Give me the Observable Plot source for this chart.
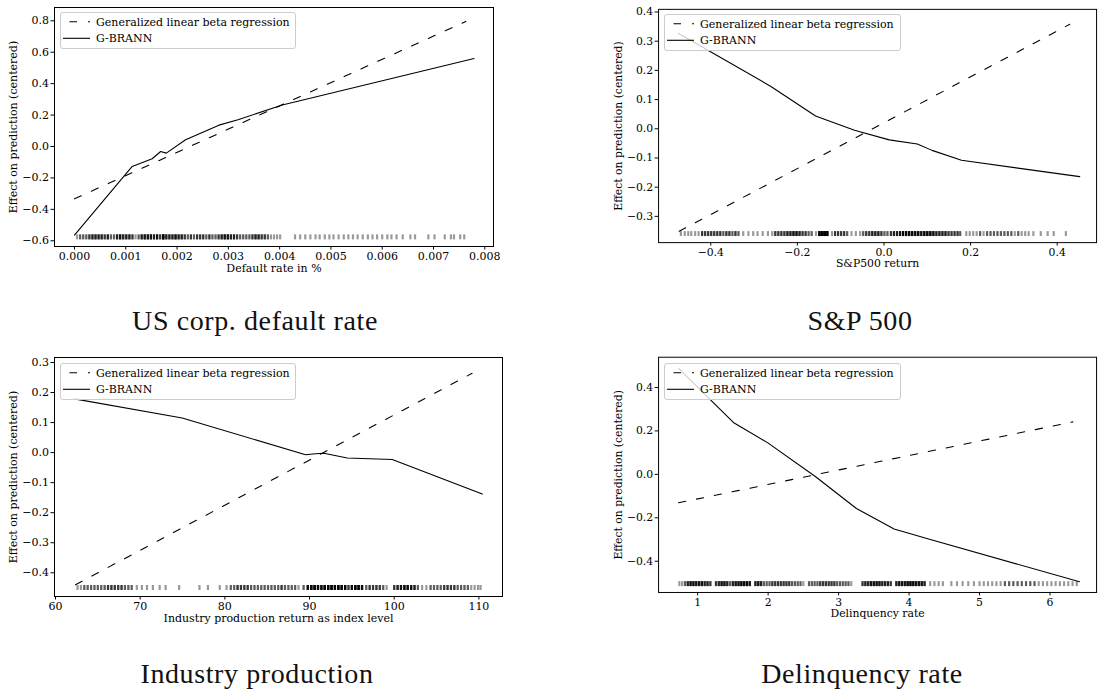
<!DOCTYPE html>
<html><head><meta charset="utf-8">
<script src="https://cdn.jsdelivr.net/npm/d3@7"></script>
<script src="https://cdn.jsdelivr.net/npm/@observablehq/plot@0.6"></script>
<style>
html,body{margin:0;padding:0;background:#fff;overflow:hidden;}
#root{position:relative;width:1102px;height:691px;overflow:hidden;background:#fff;}
.panel{position:absolute;}
.panel svg, .panel svg text, .panel svg g{font-family:"DejaVu Serif", serif !important;font-size:11px !important;}
.legend{position:absolute;box-sizing:border-box;border:1px solid #cccccc;border-radius:3px;background:rgba(255,255,255,0.8);}
.legend text{font-family:"DejaVu Serif", serif;font-size:11px;}
.caption{position:absolute;font-family:"Liberation Serif", serif;font-size:28px;letter-spacing:0.6px;line-height:28px;white-space:nowrap;transform:translateX(-50%);color:#111;}
</style></head><body><div id="root"></div>
<script>
// ---------- DATA ----------
const seriesNames = ["Generalized linear beta regression", "G-BRANN"];
const yLabel = "Effect on prediction (centered)";
const captions = ["US corp. default rate", "S&P 500", "Industry production", "Delinquency rate"];
const xLabels = ["Default rate in %", "S&P500 return", "Industry production return as index level", "Delinquency rate"];

// Panel 1: US corp. default rate
const p1GlmX = [0.0, 0.00763];
const p1GlmY = [-0.333, 0.796];
const p1NnX = [0.0, 0.001125, 0.001515, 0.00168, 0.00179, 0.002166, 0.002816, 0.003187, 0.004052, 0.007792];
const p1NnY = [-0.564, -0.127, -0.078, -0.032, -0.042, 0.043, 0.136, 0.170, 0.264, 0.560];
const p1RugY = -0.575;
const p1RugX = [0.00005,0.00011,0.00017,0.00023,0.00029,0.00035,0.00041,0.00047,0.00053,0.00059,
  0.00065,0.00071,0.00077,0.00083,0.00089,0.00095,0.00101,0.00107,0.00113,0.00119,
  0.00125,0.00131,0.00137,0.00143,0.00149,0.00155,0.00161,0.00167,0.00173,0.00179,
  0.00185,0.00191,0.00197,0.00203,0.00209,0.00215,0.00221,0.00227,0.00233,0.00239,
  0.00245,0.00251,0.00257,0.00263,0.00269,0.00275,0.00281,0.00287,0.00293,0.00299,
  0.00305,0.00311,0.00317,0.00323,0.00329,0.00335,0.00341,0.00347,0.00353,0.00359,
  0.00365,0.00371,0.00377,0.00383,0.00389,0.00395,0.00401,
  0.00430,0.00440,0.00450,0.00460,0.00470,0.00478,0.00488,0.00497,0.00505,0.00515,
  0.00525,0.00534,0.00543,0.00552,0.00562,0.00572,0.00581,0.00590,0.00600,0.00610,
  0.00618,0.00628,0.00640,0.00655,0.00664,0.00690,0.00702,0.00722,0.00734,0.00740,
  0.00752,0.00760];
const p1RugN = [1,2,2,2,3,4,4,4,4,3, 4,2,2,4,5,4,4,4,3,1, 2,4,5,5,5,4,5,3,8,4,
  4,4,5,4,4,3,2,3,2,3, 3,3,2,3,2,2,3,4,5,5, 4,4,3,2,2,2,2,3,4,4, 3,3,2,1,1,1,1];

// Panel 2: S&P 500
const p2GlmX = [-0.473, 0.429];
const p2GlmY = [-0.351, 0.358];
const p2NnX = [-0.475, -0.261, -0.158, -0.136, -0.068, 0.012, 0.077, 0.111, 0.179, 0.452];
const p2NnY = [0.327, 0.145, 0.044, 0.032, -0.005, -0.038, -0.052, -0.074, -0.108, -0.164];
const p2RugY = -0.359;
const p2RugX = [-0.469,-0.460,-0.452,-0.445,-0.436,-0.428,-0.420,-0.413,-0.406,-0.399,
  -0.392,-0.385,-0.378,-0.371,-0.364,-0.357,-0.350,-0.343,-0.336,-0.325,
  -0.313,-0.302,-0.292,-0.280,-0.268,-0.258,-0.251,-0.244,-0.237,-0.230,
  -0.223,-0.216,-0.209,-0.202,-0.195,-0.188,-0.181,-0.174,-0.167,-0.157,
  -0.149,-0.143,-0.137,-0.131,-0.120,-0.113,-0.106,-0.099,-0.092,-0.085,
  -0.075,-0.065,-0.055,-0.048,-0.041,-0.034,-0.027,-0.020,-0.013,-0.006,
  0.001,0.008,0.016,0.023,0.030,0.037,0.044,0.051,0.058,0.065,
  0.072,0.079,0.086,0.093,0.100,0.107,0.114,0.121,0.128,0.135,
  0.142,0.149,0.156,0.163,0.170,0.176,0.190,0.198,0.206,0.214,
  0.222,0.230,0.238,0.246,0.254,0.262,0.270,0.278,0.286,0.294,
  0.302,0.310,0.318,0.326,0.334,0.345,0.362,0.378,0.392,0.420];
const p2RugN = [1,1,1,1,1,1,3,3,3,3, 3,3,3,2,3,3,2,3,2,1, 1,1,1,1,1,1,3,3,3,3,
  4,4,5,5,4,3,3,2,2,1, 10,10,10,8,1,3,3,3,3,2, 1,1,1,2,3,3,4,4,4,3,
  2,2,3,4,4,5,7,8,8,7, 6,6,5,6,6,6,5,4,4,4, 4,3,3,3,3,2,1,1,1,1,
  2,1,2,2,2,2,2,2,2,2, 1,2,1,1,1,1,1,1,1,1];

// Panel 3: Industry production
const p3GlmX = [62.36, 109.2];
const p3GlmY = [-0.440, 0.264];
const p3NnX = [62.24, 74.96, 89.53, 90.71, 91.7, 94.45, 99.77, 110.4];
const p3NnY = [0.179, 0.115, -0.007, -0.004, -0.002, -0.018, -0.023, -0.138];
const p3RugY = -0.449;
const p3RugX = [62.6,63.0,63.4,63.8,64.2,64.6,65.0,65.4,65.8,66.2,
  66.6,67.0,67.4,67.8,68.2,68.6,69.0,69.6,70.2,70.8,
  71.5,72.3,73.0,74.6,77.0,78.0,79.4,80.2,80.7,81.1,
  81.5,81.9,82.3,82.7,83.1,83.5,83.9,84.3,84.7,85.1,
  85.5,85.9,86.3,86.7,87.1,87.5,87.9,88.3,88.7,89.3,
  89.8,90.2,90.6,91.0,91.4,91.8,92.2,92.6,93.0,93.4,
  93.8,94.2,94.6,95.0,95.4,95.8,96.2,96.7,97.1,97.5,
  97.9,98.3,98.7,99.1,100.0,100.4,100.8,101.2,101.6,102.0,
  102.4,102.8,103.3,103.8,104.3,104.7,105.1,105.5,105.9,106.3,
  106.7,107.1,107.5,107.9,108.3,108.7,109.1,109.5,109.9,110.2];
const p3RugN = [1,1,2,2,2,2,2,2,2,3, 3,3,3,3,2,2,2,1,1,1, 1,1,1,1,1,1,1,1,2,2,
  3,3,3,3,2,2,2,2,2,2, 2,2,2,3,2,2,2,2,1,2, 6,8,8,7,6,8,8,8,8,8,
  7,8,3,6,8,8,6,2,3,3, 3,3,2,1,3,4,5,6,6,5, 4,2,1,1,2,2,2,2,3,3,
  3,3,2,2,2,2,1,1,1,1];

// Panel 4: Delinquency rate
const p4GlmX = [0.729, 6.325];
const p4GlmY = [-0.131, 0.2415];
const p4NnX = [0.729, 1.507, 1.996, 2.67, 3.253, 3.788, 4.277, 6.419];
const p4NnY = [0.488, 0.239, 0.145, -0.010, -0.157, -0.252, -0.298, -0.494];
const p4RugY = -0.503;
const p4RugX = [0.74,0.78,0.82,0.86,0.90,0.94,0.98,1.02,1.06,1.10,
  1.14,1.18,1.26,1.30,1.34,1.38,1.42,1.46,1.50,1.54,
  1.58,1.62,1.66,1.70,1.74,1.82,1.86,1.90,1.94,1.98,
  2.02,2.06,2.10,2.14,2.18,2.22,2.26,2.30,2.34,2.38,
  2.42,2.46,2.50,2.58,2.62,2.66,2.70,2.74,2.78,2.82,
  2.86,2.90,2.94,2.98,3.02,3.06,3.10,3.14,3.18,3.34,
  3.38,3.42,3.46,3.50,3.54,3.58,3.62,3.66,3.70,3.74,
  3.82,3.86,3.90,3.94,3.98,4.02,4.06,4.10,4.14,4.18,
  4.22,4.30,4.36,4.42,4.48,4.60,4.68,4.76,4.84,4.92,
  5.00,5.06,5.12,5.18,5.24,5.30,5.36,5.42,5.48,5.54,
  5.60,5.66,5.72,5.78,5.84,5.90,5.96,6.02,6.08,6.14,
  6.20,6.26,6.32,6.38];
const p4RugN = [1,1,2,4,5,5,5,5,5,4, 4,3,3,4,5,5,4,2,4,5, 5,6,6,6,5,4,5,4,2,2,
  2,3,3,3,3,3,3,3,2,2, 2,2,1,2,2,2,2,3,3,3, 3,3,3,2,2,2,2,2,1,3,
  4,4,5,5,5,5,4,4,4,3, 4,5,5,5,6,6,6,5,5,5, 4,1,1,1,1,1,1,1,1,1,
  1,1,1,1,1,1,2,2,2,2, 2,2,2,2,1,1,1,1,1,1, 1,1,1,1];

// Tick values
const p1XTicks = [0, 0.001, 0.002, 0.003, 0.004, 0.005, 0.006, 0.007, 0.008];
const p1YTicks = [-0.6, -0.4, -0.2, 0, 0.2, 0.4, 0.6, 0.8];
const p2XTicks = [-0.4, -0.2, 0, 0.2, 0.4];
const p2YTicks = [-0.3, -0.2, -0.1, 0, 0.1, 0.2, 0.3, 0.4];
const p3XTicks = [60, 70, 80, 90, 100, 110];
const p3YTicks = [-0.4, -0.3, -0.2, -0.1, 0, 0.1, 0.2, 0.3];
const p4XTicks = [1, 2, 3, 4, 5, 6];
const p4YTicks = [-0.4, -0.2, 0, 0.2, 0.4];

// ---------- LAYOUT ----------
const panels = [
  {left:0, top:0, w:520, h:290, ml:54, mr:27, mt:7, mb:44,
   xDomain:[-0.00039, 0.00817], yDomain:[-0.6363, 0.8846], xTicks:p1XTicks, xFmt:".3f", yTicks:p1YTicks, yFmt:".1f",
   glmX:p1GlmX, glmY:p1GlmY, nnX:p1NnX, nnY:p1NnY, rugX:p1RugX, rugN:p1RugN, rugY:p1RugY,
   xLabel:xLabels[0], caption:captions[0], capX:255, capY:307, legend:[60,12,236,37]},
  {left:600, top:0, w:510, h:290, ml:59, mr:6, mt:9, mb:44,
   xDomain:[-0.5205, 0.4909], yDomain:[-0.390, 0.4091], xTicks:p2XTicks, xFmt:".1f", yTicks:p2YTicks, yFmt:".1f",
   glmX:p2GlmX, glmY:p2GlmY, nnX:p2NnX, nnY:p2NnY, rugX:p2RugX, rugN:p2RugN, rugY:p2RugY,
   xLabel:xLabels[1], caption:captions[1], capX:860, capY:307, legend:[664,14,237,37]},
  {left:0, top:340, w:520, h:300, ml:54, mr:18, mt:17, mb:44,
   xDomain:[59.88, 112.79], yDomain:[-0.479, 0.3166], xTicks:p3XTicks, xFmt:"d", yTicks:p3YTicks, yFmt:".1f",
   glmX:p3GlmX, glmY:p3GlmY, nnX:p3NnX, nnY:p3NnY, rugX:p3RugX, rugN:p3RugN, rugY:p3RugY,
   xLabel:xLabels[2], caption:captions[2], capX:257, capY:660, legend:[60,363,236,37]},
  {left:600, top:340, w:510, h:300, ml:59, mr:6, mt:17, mb:44,
   xDomain:[0.4455, 6.661], yDomain:[-0.5437, 0.5392], xTicks:p4XTicks, xFmt:"d", yTicks:p4YTicks, yFmt:".1f",
   glmX:p4GlmX, glmY:p4GlmY, nnX:p4NnX, nnY:p4NnY, rugX:p4RugX, rugN:p4RugN, rugY:p4RugY,
   xLabel:xLabels[3], caption:captions[3], capX:862, capY:660, legend:[664,363,237,37]}
];

const rugTick = {draw(ctx, size) { const h = Math.sqrt(size / Math.PI); ctx.moveTo(0, -h); ctx.lineTo(0, h); }};
const DASH = "7.5,11";
const root = document.getElementById("root");

for (const p of panels) {
  const glm = p.glmX.map((x, i) => ({x, y: p.glmY[i]}));
  const nn = p.nnX.map((x, i) => ({x, y: p.nnY[i]}));
  const rug = p.rugX.flatMap((x, i) => Array.from({length: p.rugN[i] ?? 1}, () => ({x, y: p.rugY})));
  const chart = Plot.plot({
    width: p.w, height: p.h,
    marginLeft: p.ml, marginRight: p.mr, marginTop: p.mt, marginBottom: p.mb,
    style: {fontFamily: "'DejaVu Serif', serif", fontSize: "11px", color: "#000", background: "transparent", overflow: "visible"},
    x: {type: "linear", domain: p.xDomain, ticks: p.xTicks, tickFormat: d3.format(p.xFmt), tickSize: 3.5, tickPadding: 2,
        label: p.xLabel, labelAnchor: "center", labelOffset: 25, labelArrow: "none"},
    y: {type: "linear", domain: p.yDomain, ticks: p.yTicks, tickFormat: d3.format(p.yFmt), tickSize: 3.5, tickPadding: 2,
        label: yLabel, labelAnchor: "center", labelOffset: 45, labelArrow: "none"},
    marks: [
      Plot.dot(rug, {x: "x", y: "y", symbol: rugTick, r: 2.5, stroke: "#000", strokeWidth: 2.2, strokeOpacity: 0.4, fill: "none"}),
      Plot.line(glm, {x: "x", y: "y", stroke: "#000", strokeWidth: 1.1, strokeDasharray: DASH}),
      Plot.line(nn, {x: "x", y: "y", stroke: "#000", strokeWidth: 1.1}),
      Plot.frame({stroke: "#000", strokeWidth: 1})
    ]
  });
  const wrap = document.createElement("div");
  wrap.className = "panel";
  wrap.style.left = p.left + "px";
  wrap.style.top = p.top + "px";
  wrap.appendChild(chart);
  root.appendChild(wrap);

  const [lx, ly, lw, lh] = p.legend;
  const lg = document.createElement("div");
  lg.className = "legend";
  Object.assign(lg.style, {left: lx + "px", top: ly + "px", width: lw + "px", height: lh + "px"});
  lg.innerHTML = `<svg style="position:absolute;left:-1px;top:-1px;overflow:visible" width="${lw}" height="${lh}">
    <line x1="3" x2="30" y1="9.7" y2="9.7" stroke="#000" stroke-width="1.1" stroke-dasharray="${DASH}" stroke-dashoffset="12"/>
    <line x1="3" x2="30" y1="26.3" y2="26.3" stroke="#000" stroke-width="1.1"/>
    <text x="36" y="9.7" dy="0.36em" fill="#000">${seriesNames[0]}</text>
    <text x="36" y="26.3" dy="0.36em" fill="#000">${seriesNames[1]}</text>
  </svg>`;
  root.appendChild(lg);

  const cap = document.createElement("div");
  cap.className = "caption";
  cap.style.left = p.capX + "px";
  cap.style.top = p.capY + "px";
  cap.textContent = p.caption;
  root.appendChild(cap);
}
</script>
</body></html>
